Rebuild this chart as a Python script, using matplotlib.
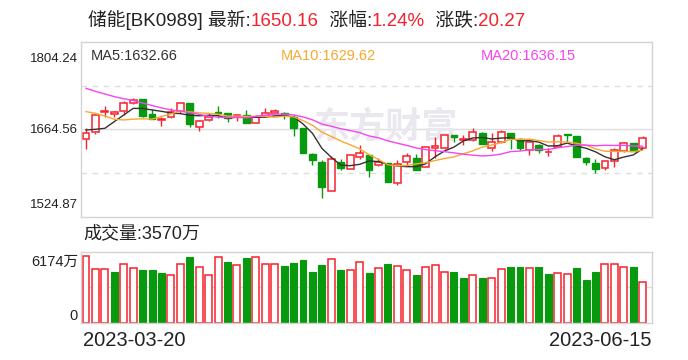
import numpy as np
import pandas as pd
import matplotlib
matplotlib.use("Agg")
import matplotlib.pyplot as plt

# ---- data ----
title_name = "储能[BK0989]"
last_price = "1650.16"
pct_change = "1.24%"
abs_change = "20.27"

# closes before the window, only used to warm up the MAs
hist_closes = [1783.4, 1779.7, 1775.5, 1772.8, 1769.1, 1765.9, 1762.1, 1758.4, 1755.2, 1752.5,
               1713.6, 1736.5, 1745.1, 1716.8, 1698.7, 1681.6, 1685.9, 1638.4, 1653.4]

opens = [1648.6, 1660.8, 1692.8, 1688.6, 1694.4, 1706.1, 1713.1, 1689.1, 1680.0, 1683.8,
         1694.4, 1706.1, 1668.8, 1679.0, 1691.8, 1690.2, 1685.9, 1687.5, 1675.2, 1686.4,
         1691.2, 1690.2, 1684.8, 1666.2, 1625.1, 1612.9, 1566.5, 1612.9, 1600.6, 1619.8,
         1623.5, 1607.0, 1610.2, 1578.2, 1611.8, 1618.2, 1603.8, 1634.7, 1635.2, 1655.0,
         1647.0, 1647.5, 1658.7, 1634.2, 1643.8, 1658.7, 1648.6, 1631.5, 1640.0, 1627.8,
         1636.8, 1656.6, 1653.9, 1619.3, 1610.2, 1603.3, 1613.4, 1630.4, 1642.2, 1634.2]
highs = [1667.2, 1687.5, 1701.9, 1694.4, 1709.9, 1714.1, 1713.1, 1696.5, 1684.8, 1698.1,
         1706.5, 1706.7, 1679.5, 1690.2, 1701.9, 1690.7, 1689.1, 1695.5, 1687.0, 1698.7,
         1696.5, 1692.3, 1687.5, 1666.5, 1627.2, 1615.5, 1621.9, 1616.6, 1623.3, 1639.5,
         1623.8, 1618.2, 1610.5, 1615.5, 1626.2, 1625.1, 1636.1, 1651.8, 1655.3, 1655.3,
         1655.0, 1666.7, 1660.8, 1658.2, 1663.5, 1659.0, 1650.7, 1644.1, 1640.3, 1634.2,
         1656.6, 1657.1, 1654.2, 1619.6, 1616.6, 1613.7, 1634.2, 1644.3, 1643.2, 1653.9]
lows = [1632.6, 1656.6, 1683.8, 1683.8, 1687.0, 1705.1, 1683.8, 1681.1, 1670.4, 1682.2,
        1690.2, 1668.8, 1662.4, 1678.4, 1683.2, 1676.8, 1678.4, 1674.2, 1674.2, 1684.8,
        1690.2, 1680.6, 1653.9, 1626.8, 1607.5, 1555.3, 1566.2, 1599.5, 1600.3, 1617.7,
        1588.9, 1605.9, 1580.5, 1575.0, 1607.0, 1599.2, 1603.5, 1618.7, 1632.6, 1644.3,
        1639.5, 1645.9, 1640.3, 1630.4, 1643.2, 1633.6, 1631.5, 1624.1, 1626.2, 1622.5,
        1636.5, 1644.8, 1620.6, 1607.5, 1595.3, 1599.5, 1604.9, 1628.8, 1629.5, 1633.9]
closes = [1658.2, 1687.0, 1693.9, 1691.8, 1706.1, 1711.5, 1686.4, 1681.6, 1681.1, 1692.8,
          1706.1, 1673.6, 1677.4, 1684.8, 1690.7, 1682.2, 1687.0, 1675.2, 1684.8, 1690.2,
          1693.3, 1688.6, 1666.2, 1627.2, 1615.5, 1572.9, 1617.1, 1603.3, 1623.0, 1626.2,
          1599.5, 1612.9, 1580.9, 1609.1, 1621.4, 1599.5, 1635.8, 1637.4, 1655.0, 1652.8,
          1648.6, 1659.8, 1640.6, 1643.8, 1659.8, 1650.7, 1634.2, 1643.8, 1631.5, 1628.8,
          1653.4, 1655.0, 1620.9, 1612.9, 1600.6, 1613.4, 1631.5, 1642.2, 1629.89, 1650.16]
# volume in 万
volumes = [5795, 4630, 4630, 4398, 5067, 4718, 4572, 4572, 4310, 4106,
           5067, 5708, 4805, 4106, 5679, 5271, 4980, 5621, 5679, 5067,
           5067, 4922, 5184, 5446, 4398, 5009, 5504, 4572, 4543, 5242,
           4310, 4718, 5097, 4893, 4543, 4135, 4805, 4980, 4368, 4398,
           3873, 4106, 3873, 3844, 4630, 4834, 4834, 4718, 4834, 4223,
           4281, 4194, 4747, 3699, 4398, 5067, 5067, 4805, 4834, 3570]

price_ticks = [1804.24, 1664.56, 1524.87]
vol_max = 6174
vol_last = "3570万"
ma_periods = [5, 10, 20]
ma_last = ["1632.66", "1629.62", "1636.15"]
date_labels = ["2023-03-20", "2023-06-15"]

# ---- style ----
RED = "#f5222d"
GREEN = "#089a0e"
TXT = "#222222"
GRID = "#dddddd"
BORDER = "#d4d4d4"
MA_COLORS = ["#333333", "#f7a830", "#f545f0"]

plt.rcParams["font.family"] = ["Liberation Sans", "Noto Sans CJK SC", "DejaVu Sans"]

W, H = 688, 360
fig = plt.figure(figsize=(W / 100, H / 100), dpi=100)

def fx(px):
    return px / W

def fy(py):
    return 1 - py / H

# ---- main k-line axes ----
ax = fig.add_axes([fx(81), fy(216.6), fx(652) - fx(81), fy(42) - fy(216.6)])
x = np.arange(len(closes))
o = np.array(opens)
c = np.array(closes)
hi = np.array(highs)
lo = np.array(lows)
up = c >= o
body_lo = np.minimum(o, c)
body_hi = np.maximum(o, c)
cols = np.where(up, RED, GREEN)

ax.vlines(x, body_hi, hi, color=cols, lw=1.0, zorder=2)
ax.vlines(x, lo, body_lo, color=cols, lw=1.0, zorder=2)
ax.bar(x[up], (body_hi - body_lo)[up], bottom=body_lo[up], width=0.72,
       facecolor="white", edgecolor=RED, linewidth=1.1, zorder=2)
ax.bar(x[~up], (body_hi - body_lo)[~up], bottom=body_lo[~up], width=0.72,
       facecolor=GREEN, edgecolor=GREEN, linewidth=1.0, zorder=2)

full = pd.Series(hist_closes + closes)
for n, col in zip(ma_periods, MA_COLORS):
    ma = full.rolling(n).mean().values[-len(closes):]
    ax.plot(x, ma, color=col, lw=1.0, zorder=3)

y_top, y_mid, y_bot = price_ticks
ax.set_ylim(y_bot, y_top)
ax.set_xlim(-0.53, len(closes) - 0.01)
ax.axhline(y_mid, color=GRID, lw=1.0, zorder=0)
for q in (y_mid + (y_top - y_mid) / 2, y_mid - (y_mid - y_bot) / 2):
    ax.axhline(q, color=GRID, lw=1.0, ls=(0, (4, 4)), zorder=0)
ax.set_xticks([])
ax.set_yticks([])
for sp in ax.spines.values():
    sp.set_color(BORDER)
    sp.set_linewidth(1.0)

# watermark
ax.text(0.535, 0.505, "东方财富", transform=ax.transAxes, ha="center", va="center",
        fontsize=26, fontweight="bold", color="#e8e8ee", zorder=0)

# ---- title (multi-colour, pieces chained one after another) ----
pieces = [(title_name + " 最新:", TXT), (last_price, RED), ("  涨幅:", TXT),
          (pct_change, RED), ("  涨跌:", TXT), (abs_change, RED)]
prev = fig.text(fx(88), fy(20), pieces[0][0], color=pieces[0][1], fontsize=13.5,
                ha="left", va="center")
for s, col in pieces[1:]:
    prev = ax.annotate(s, xy=(1, 0), xycoords=prev, ha="left", va="bottom",
                       color=col, fontsize=13.5, annotation_clip=False)

# price labels
fig.text(fx(78), fy(59), f"{y_top:.2f}", ha="right", va="center", fontsize=9.5, color=TXT)
fig.text(fx(78), fy(129.5), f"{y_mid:.2f}", ha="right", va="center", fontsize=9.5, color=TXT)
fig.text(fx(78), fy(205), f"{y_bot:.2f}", ha="right", va="center", fontsize=9.5, color=TXT)

# MA legend texts
ma_x = [91, 281, 481]
for n, val, col, px in zip(ma_periods, ma_last, MA_COLORS, ma_x):
    fig.text(fx(px), fy(56), f"MA{n}:{val}", ha="left", va="center",
             fontsize=10.5, color=col)

# ---- volume axes ----
axv = fig.add_axes([fx(81), fy(322.5), fx(652) - fx(81), fy(251.7) - fy(322.5)])
prev_c = np.r_[hist_closes[-1], c[:-1]]
vup = c >= prev_c
v = np.array(volumes)
axv.bar(x[vup], v[vup], width=0.74, facecolor="white", edgecolor=RED, linewidth=1.1)
axv.bar(x[~vup], v[~vup], width=0.74, facecolor=GREEN, edgecolor=GREEN, linewidth=0.8)
axv.set_ylim(0, vol_max)
axv.set_xlim(ax.get_xlim())
axv.axhline(vol_max / 2, color=GRID, lw=1.0, zorder=0)
axv.set_xticks([])
axv.set_yticks([])
for sp in axv.spines.values():
    sp.set_color(BORDER)
    sp.set_linewidth(1.0)

fig.text(fx(83), fy(234), f"成交量:{vol_last}", ha="left", va="center", fontsize=13, color=TXT)
fig.text(fx(78), fy(262), f"{vol_max}万", ha="right", va="center", fontsize=10.5, color=TXT)
fig.text(fx(78), fy(316), "0", ha="right", va="center", fontsize=10.5, color=TXT)

fig.text(fx(83), fy(341), date_labels[0], ha="left", va="center", fontsize=14.5, color=TXT)
fig.text(fx(652), fy(341), date_labels[1], ha="right", va="center", fontsize=14.5, color=TXT)

fig.savefig("out.png", dpi=100, facecolor="white")
